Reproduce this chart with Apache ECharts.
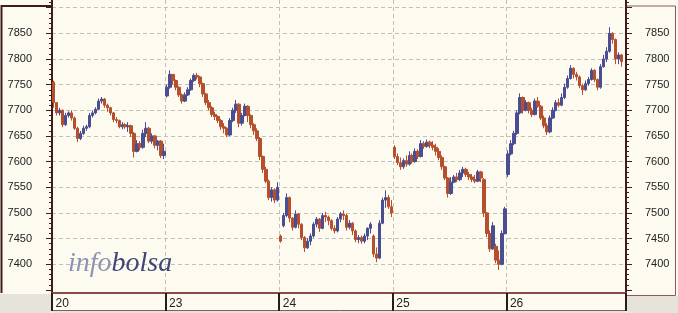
<!DOCTYPE html>
<html><head><meta charset="utf-8">
<script src="https://cdn.jsdelivr.net/npm/echarts@6/dist/echarts.min.js"></script>
<style>html,body{margin:0;padding:0;background:#fdfaf0}#c{width:678px;height:313px}</style>
</head><body><div id="c"></div>
<script>
// Day labels and intraday bars [open, close, low, high]
const dayLabels = ['20', '23', '24', '25', '26'];
const day20 = [
[7755,7715,7705,7758],[7715,7695,7690,7712],[7695,7700,7690,7705],[7700,7672,7667,7702],
[7672,7690,7670,7695],[7690,7695,7686,7698],[7695,7685,7680,7700],[7685,7665,7662,7688],
[7665,7645,7638,7668],[7645,7655,7642,7660],[7655,7665,7652,7670],[7665,7668,7660,7672],
[7668,7690,7665,7695],[7690,7695,7686,7700],[7695,7702,7692,7706],[7702,7718,7700,7723],
[7718,7722,7713,7726],[7722,7710,7705,7724],[7710,7705,7697,7713],[7705,7695,7690,7707],
[7695,7682,7677,7697],[7682,7680,7675,7687],[7680,7668,7665,7682],[7668,7672,7663,7677],
[7672,7668,7664,7675],[7668,7670,7658,7677],[7670,7655,7648,7672],[7655,7620,7608,7658],
[7620,7635,7618,7642],[7635,7628,7622,7640],[7628,7655,7625,7662],[7655,7665,7648,7677],
[7665,7640,7636,7668],[7640,7650,7635,7655],[7650,7632,7626,7652],[7632,7640,7622,7642],
[7640,7612,7607,7642],[7612,7620,7605,7635]
];
const day23 = [
[7728,7745,7725,7750],[7745,7770,7742,7778],[7770,7758,7750,7768],[7758,7745,7739,7760],
[7745,7730,7726,7747],[7730,7718,7713,7733],[7718,7730,7716,7735],[7730,7740,7728,7745],
[7740,7758,7738,7762],[7758,7768,7755,7772],[7768,7765,7760,7773],[7765,7752,7745,7767],
[7752,7732,7726,7754],[7732,7715,7710,7734],[7715,7705,7700,7720],[7705,7692,7687,7708],
[7692,7688,7681,7697],[7688,7680,7675,7690],[7680,7668,7662,7683],[7668,7665,7655,7675],
[7665,7652,7648,7667],[7652,7680,7650,7685],[7680,7700,7677,7705],[7700,7712,7695,7720],
[7712,7675,7667,7714],[7675,7690,7670,7695],[7690,7708,7688,7713],[7708,7690,7677,7710],
[7690,7672,7665,7692],[7672,7660,7652,7675],[7660,7645,7640,7665],[7645,7610,7603,7648],
[7610,7585,7578,7612],[7585,7562,7558,7590],[7562,7530,7525,7565],[7530,7545,7522,7550],
[7545,7525,7519,7548],[7525,7550,7522,7560]
];
const day24 = [
[7455,7445,7442,7458],[7475,7495,7472,7500],[7495,7530,7492,7538],[7530,7490,7482,7532],
[7490,7472,7466,7492],[7472,7498,7470,7505],[7498,7478,7470,7500],[7478,7452,7447,7480],
[7452,7432,7424,7455],[7432,7445,7430,7451],[7445,7455,7437,7460],[7455,7478,7452,7482],
[7478,7488,7472,7492],[7488,7470,7463,7490],[7470,7495,7468,7500],[7495,7492,7482,7502],
[7492,7485,7476,7495],[7485,7470,7466,7488],[7470,7465,7460,7476],[7465,7488,7462,7492],
[7488,7498,7482,7502],[7498,7495,7486,7505],[7495,7472,7466,7498],[7472,7480,7468,7486],
[7480,7465,7457,7482],[7465,7448,7443,7468],[7448,7452,7441,7457],[7452,7445,7440,7456],
[7445,7455,7441,7460],[7455,7470,7447,7472],[7470,7478,7460,7482],[7455,7420,7414,7458],
[7420,7412,7404,7433],[7412,7480,7410,7486],[7480,7525,7478,7530],[7525,7530,7510,7544],
[7530,7512,7508,7535],[7512,7500,7492,7525]
];
const day25 = [
[7628,7610,7605,7632],[7610,7598,7593,7616],[7598,7590,7584,7608],[7590,7602,7586,7606],
[7602,7595,7590,7612],[7595,7612,7592,7620],[7612,7600,7596,7616],[7600,7620,7598,7626],
[7620,7610,7605,7624],[7610,7635,7608,7642],[7635,7630,7625,7640],[7630,7638,7627,7643],
[7638,7632,7626,7641],[7632,7628,7622,7640],[7628,7620,7612,7635],[7620,7608,7603,7626],
[7608,7590,7584,7612],[7590,7568,7564,7592],[7568,7538,7530,7570],[7538,7560,7535,7570],
[7560,7570,7558,7574],[7570,7565,7560,7578],[7565,7578,7562,7584],[7578,7585,7570,7590],
[7585,7575,7570,7588],[7575,7570,7564,7580],[7570,7565,7560,7576],[7565,7562,7558,7574],
[7562,7580,7560,7584],[7580,7568,7560,7582],[7565,7500,7492,7568],[7500,7460,7453,7502],
[7460,7430,7424,7466],[7430,7475,7428,7482],[7435,7408,7402,7440],[7408,7400,7389,7427],
[7400,7460,7398,7466],[7460,7508,7458,7512]
];
const day26 = [
[7575,7615,7570,7622],[7615,7635,7612,7642],[7635,7655,7632,7660],[7655,7695,7652,7700],
[7695,7725,7692,7733],[7725,7700,7694,7727],[7700,7715,7698,7720],[7715,7700,7694,7717],
[7700,7692,7687,7705],[7692,7718,7690,7723],[7718,7708,7705,7726],[7708,7685,7681,7710],
[7685,7670,7665,7690],[7670,7658,7652,7675],[7658,7685,7655,7690],[7685,7700,7683,7706],
[7700,7715,7698,7720],[7715,7710,7706,7723],[7710,7725,7708,7733],[7725,7745,7722,7752],
[7745,7762,7742,7768],[7762,7782,7760,7788],[7782,7770,7762,7784],[7770,7765,7758,7775],
[7765,7748,7743,7768],[7748,7740,7730,7752],[7740,7752,7738,7758],[7752,7760,7748,7765],
[7760,7778,7758,7782],[7778,7760,7755,7780],[7760,7745,7739,7762],[7745,7785,7742,7790],
[7785,7800,7783,7808],[7800,7815,7794,7823],[7815,7850,7812,7862],[7850,7838,7830,7852],
[7838,7800,7790,7840],[7800,7808,7790,7813],[7808,7795,7785,7810]
];
const days = [day20, day23, day24, day25, day26];
const yLabelValues = [7400,7450,7500,7550,7600,7650,7700,7750,7800,7850];
const yMajorTicks = [7350,7400,7450,7500,7550,7600,7650,7700,7750,7800,7850,7900];
const yMinorTicks = [7350,7360,7370,7380,7390,7400,7410,7420,7430,7440,7450,7460,7470,7480,7490,
  7500,7510,7520,7530,7540,7550,7560,7570,7580,7590,7600,7610,7620,7630,7640,7650,7660,7670,7680,7690,
  7700,7710,7720,7730,7740,7750,7760,7770,7780,7790,7800,7810,7820,7830,7840,7850,7860,7870,7880,7890,7900,7910];

const cats = [], data = [], starts = new Set();
days.forEach((d, k) => {
  starts.add(cats.length);
  d.forEach((b, i) => { cats.push(dayLabels[k] + '-' + i); data.push([b[0], b[1], b[2], b[3]]); });
});
cats.push('end-0'); data.push('-');

const UP = '#4a4d92', DOWN = '#b5502e';
const AX = '#3e1c1c';
const chart = echarts.init(document.getElementById('c'), null, {renderer: 'canvas'});
const yBase = {type: 'value', min: 7344, max: 7915, scale: true};
const plainNum = (v) => String(v);
chart.setOption({
  backgroundColor: '#fdfaf0',
  animation: false,
  grid: {left: 52, right: 52, top: 0, bottom: 20, containLabel: false},
  xAxis: {
    type: 'category', data: cats, boundaryGap: true,
    axisLine: {show: true, lineStyle: {color: '#8a4a4a', width: 2}},
    axisTick: {show: true, interval: (i) => starts.has(i), length: 18, lineStyle: {color: '#2a1a1a', width: 2}},
    axisLabel: {interval: (i) => starts.has(i), formatter: (v) => v.split('-')[0], align: 'left',
      padding: [0, 0, 0, 2], color: '#222', fontSize: 12, fontFamily: 'Liberation Sans, Arial', margin: 5},
    splitLine: {show: true, interval: (i) => starts.has(i), lineStyle: {color: '#c4c0b8', type: [4, 3], width: 1}}
  },
  yAxis: [
    Object.assign({}, yBase, {position: 'left',
      axisLine: {show: true, lineStyle: {color: AX, width: 2}},
      axisTick: {show: true, customValues: yMajorTicks, length: 6, lineStyle: {color: AX}},
      axisLabel: {customValues: yLabelValues, formatter: plainNum, color: '#222', fontSize: 11, fontFamily: 'Liberation Sans, Arial', margin: 20},
      splitLine: {show: true, lineStyle: {color: ['transparent','#c4c0b8','#c4c0b8','#c4c0b8','#c4c0b8','#c4c0b8','#c4c0b8','#c4c0b8','#c4c0b8','#c4c0b8','#c4c0b8','#c4c0b8'], type: [4, 3]}}}),
    Object.assign({}, yBase, {position: 'left', axisLine: {show: false},
      axisTick: {show: true, customValues: yMinorTicks, length: 3, lineStyle: {color: AX}},
      axisLabel: {show: false}, splitLine: {show: false}}),
    Object.assign({}, yBase, {position: 'right',
      axisLine: {show: true, lineStyle: {color: AX, width: 2}},
      axisTick: {show: true, customValues: yMajorTicks, length: 6, lineStyle: {color: AX}},
      axisLabel: {customValues: yLabelValues, formatter: plainNum, color: '#222', fontSize: 11, fontFamily: 'Liberation Sans, Arial', margin: 19},
      splitLine: {show: false}}),
    Object.assign({}, yBase, {position: 'right', axisLine: {show: false},
      axisTick: {show: true, customValues: yMinorTicks, length: 3, lineStyle: {color: AX}},
      axisLabel: {show: false}, splitLine: {show: false}})
  ],
  series: [{
    type: 'candlestick', data: data, xAxisIndex: 0, yAxisIndex: 0, barWidth: 3,
    itemStyle: {color: UP, color0: DOWN, borderColor: UP, borderColor0: DOWN, borderWidth: 1}
  }],
  graphic: [
    {type: 'rect', shape: {x: 0, y: 294, width: 51, height: 19}, style: {fill: '#e6e3da'}, silent: true},
    {type: 'rect', shape: {x: 627, y: 296, width: 51, height: 17}, style: {fill: '#e6e3da'}, silent: true},
    {type: 'rect', shape: {x: 52, y: 311, width: 574, height: 2}, style: {fill: '#e6e3da'}, silent: true},
    {type: 'polyline', shape: {points: [[1.5, 293], [1.5, 6], [51, 6]]}, style: {stroke: '#3e1c1c', lineWidth: 2, fill: null}, silent: true},
    {type: 'polyline', shape: {points: [[627, 6], [675.5, 6], [675.5, 295.5], [627, 295.5]]}, style: {stroke: '#8a5a5a', lineWidth: 1, fill: null}, silent: true},
    {type: 'polyline', shape: {points: [[53, 310.5], [625.5, 310.5], [625.5, 294]]}, style: {stroke: '#8a5a5a', lineWidth: 1, fill: null}, silent: true},
    {type: 'text', x: 68, y: 250, silent: true, z: 10,
      style: {text: '{a|info}{b|bolsa}', font: 'italic 28px "Liberation Serif"',
        rich: {a: {fill: '#8d93b5', fontSize: 28, fontStyle: 'italic', fontFamily: 'Liberation Serif'},
               b: {fill: '#3b4779', fontSize: 28, fontStyle: 'italic', fontFamily: 'Liberation Serif'}}}}
  ]
});
</script></body></html>
